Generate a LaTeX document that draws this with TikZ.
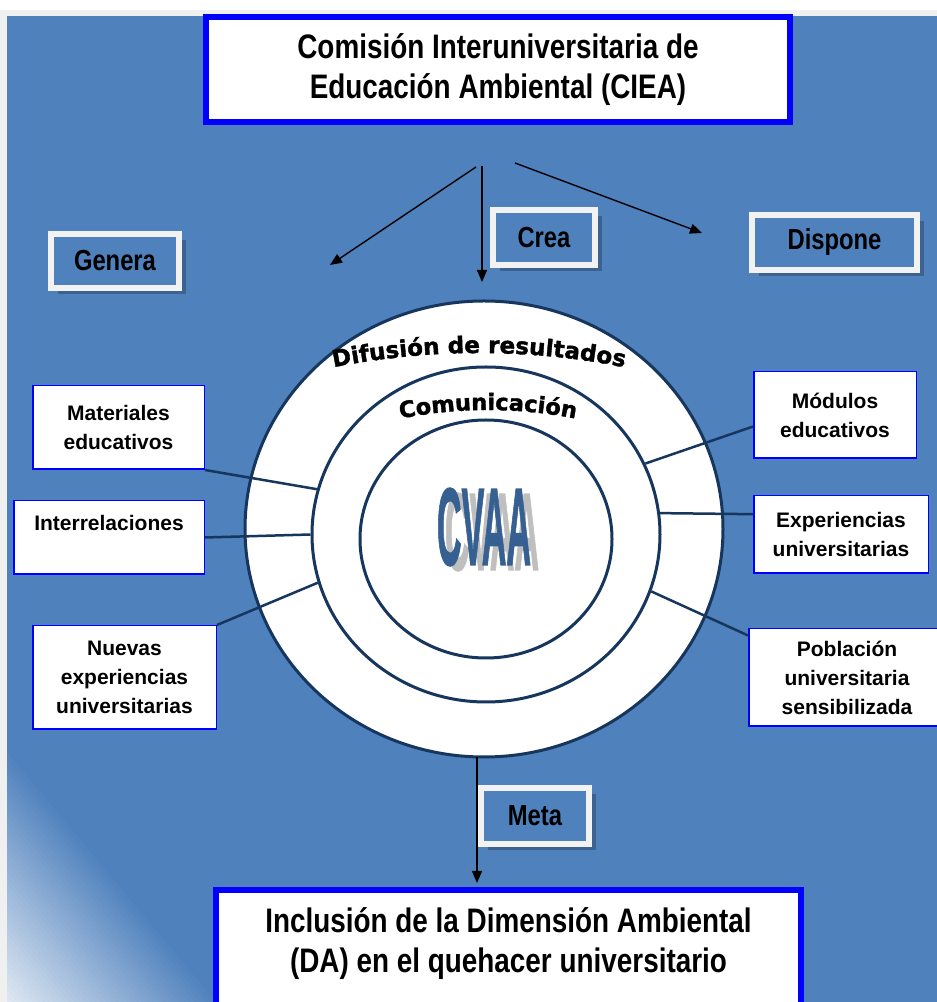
\documentclass[tikz,border=0pt]{standalone}
\usepackage{fontspec}
\usepackage{graphicx}
\setmainfont{Liberation Sans}
\newfontfamily\narrowfont[FakeStretch=0.82]{Liberation Sans}
\newfontfamily\heavyfont[BoldFeatures={FakeBold=1.6}]{DejaVu Sans}
\newfontfamily\cvaafont[BoldFeatures={FakeBold=1.5}]{Liberation Sans}
\usetikzlibrary{shapes,arrows.meta,positioning,shadows,decorations.text}
\definecolor{bgblue}{RGB}{79,129,189}
\definecolor{paleblue}{RGB}{222,231,242}
\definecolor{darkblue}{RGB}{60,98,146}
\definecolor{navy}{RGB}{23,54,93}
\definecolor{frameblue}{RGB}{0,0,255}
\definecolor{cvaablue}{RGB}{54,96,146}
\definecolor{pagegray}{RGB}{240,240,240}

\begin{document}
\begin{tikzpicture}[x=1pt, y=1pt,
        bigbox/.style={draw=frameblue, line width=6pt, fill=white, inner sep=0pt, align=center,
            font=\narrowfont\bfseries\fontsize{34}{40}\selectfont},
        tagbox/.style={draw=white!95!black, line width=6pt, fill=bgblue, inner sep=0pt,
            font=\narrowfont\bfseries\fontsize{29}{29}\selectfont,
            drop shadow={shadow xshift=6.5pt, shadow yshift=-6.5pt, fill=darkblue, opacity=1}},
        itembox/.style={draw=frameblue, line width=1.5pt, fill=white, inner sep=0pt, align=center,
            font=\bfseries\fontsize{21}{29}\selectfont},
        ringline/.style={ellipse, draw=navy, line width=3pt, fill=white, inner sep=0pt},
        link/.style={draw=navy, line width=2.5pt},
        arr/.style={-{Triangle[length=12pt, width=10pt]}, line width=1.4pt}]
        \useasboundingbox (0,0) rectangle (937,1002);

        % Background
        \fill[white] (0,0) rectangle (937,1002);
        \fill[pagegray] (0,0) rectangle (937,992);
        \fill[bgblue] (7,0) rectangle (937,986);
        \begin{scope}
            \clip (7,0) rectangle (937,986);
            \begin{scope}[shift={(7,0)}, rotate=40]
                \foreach \i in {0,...,39} {
                    \pgfmathsetmacro{\mix}{\i*2.5}
                    \fill[bgblue!\mix!paleblue] (\i*4,-400) rectangle (\i*4+4.4,400);
                }
            \end{scope}
        \end{scope}

        % Rings
        \node[ringline, minimum width=478, minimum height=456] (outer) at (484,473) {};
        \node[ringline, minimum width=348, minimum height=335] (mid) at (486,467.5) {};
        \node[ringline, minimum width=252, minimum height=238] (core) at (486,463) {};

        % Ring texts
        \path[shift={(479,-101)}, decorate, decoration={text along path, text align=center,
            text={|\heavyfont\bfseries\fontsize{23}{23}\selectfont|Difusión de resultados}}]
            (110:750) arc[start angle=110, end angle=70, radius=750];
        \path[shift={(488,142)}, decorate, decoration={text along path, text align=center,
            text={|\heavyfont\bfseries\fontsize{22.5}{22.5}\selectfont|Comunicación}}]
            (115:450) arc[start angle=115, end angle=65, radius=450];

        % Center label
        \node[text=black!25] (cvaashadow) at (492,470) {\scalebox{0.31}[1]{\cvaafont\fontsize{110}{110}\selectfont\bfseries CVAA}};
        \node[text=cvaablue] (cvaa) at (484,475) {\scalebox{0.31}[1]{\cvaafont\fontsize{110}{110}\selectfont\bfseries CVAA}};

        % Top box and its arrows
        \node[bigbox, minimum width=584, minimum height=105] (ciea) at (498,932.5)
            {Comisión Interuniversitaria de\\Educación Ambiental (CIEA)};
        \coordinate (fork1) at (476,835);
        \coordinate (fork2) at (482,836);
        \coordinate (fork3) at (515,839);
        \coordinate (genpt) at (330,737);
        \coordinate (creapt) at (482,720);
        \coordinate (disppt) at (702,769);
        \draw[arr] (fork1) -- (genpt);
        \draw[arr] (fork2) -- (creapt);
        \draw[arr] (fork3) -- (disppt);

        % Verb tags
        \node[tagbox, minimum width=128, minimum height=54] (genera) at (115,741) {Genera};
        \node[tagbox, minimum width=102, minimum height=55] (crea) at (544,764.5) {Crea};
        \node[tagbox, minimum width=165, minimum height=55] (dispone) at (834.5,759.5) {Dispone};
        \node[tagbox, minimum width=108, minimum height=56] (meta) at (535,186) {Meta};

        % Side boxes
        \node[itembox, minimum width=171.5, minimum height=83.5] (mat) at (118.5,574.5) {Materiales\\educativos};
        \node[itembox, minimum width=190.5, minimum height=73.5] (inter) at (109,464.5) {Interrelaciones\\\mbox{}};
        \node[itembox, minimum width=183.5, minimum height=103.5] (nuev) at (124.5,324.5) {Nuevas\\experiencias\\universitarias};
        \node[itembox, minimum width=162.5, minimum height=86.5] (mod) at (835,587) {Módulos\\educativos};
        \node[itembox, minimum width=174.5, minimum height=77.5] (expe) at (841,467.5) {Experiencias\\universitarias};
        \node[itembox, minimum width=196.5, minimum height=97.5] (pobl) at (847,324.5) {Población\\universitaria\\sensibilizada};

        % Links to the rings
        \draw[link] (mat.south east) -- (mid.165);
        \draw[link] (inter.east) -- (mid.180);
        \draw[link] (nuev.north east) -- (mid.196);
        \draw[link] (mod.188) -- (mid.24.5);
        \draw[link] (expe.167) -- (mid.7);
        \draw[link] (pobl.157) -- (mid.-19.6);

        % Bottom box
        \node[bigbox, minimum width=585, minimum height=140] (goal) at (508.5,42)
            {Inclusión de la Dimensión Ambiental\\(DA) en el quehacer universitario\\\mbox{}};
        \coordinate (ringbase) at (477,245);
        \coordinate (goaltop) at (477,119);
        \draw[arr] (ringbase) -- (goaltop);
    \end{tikzpicture}
\end{document}
